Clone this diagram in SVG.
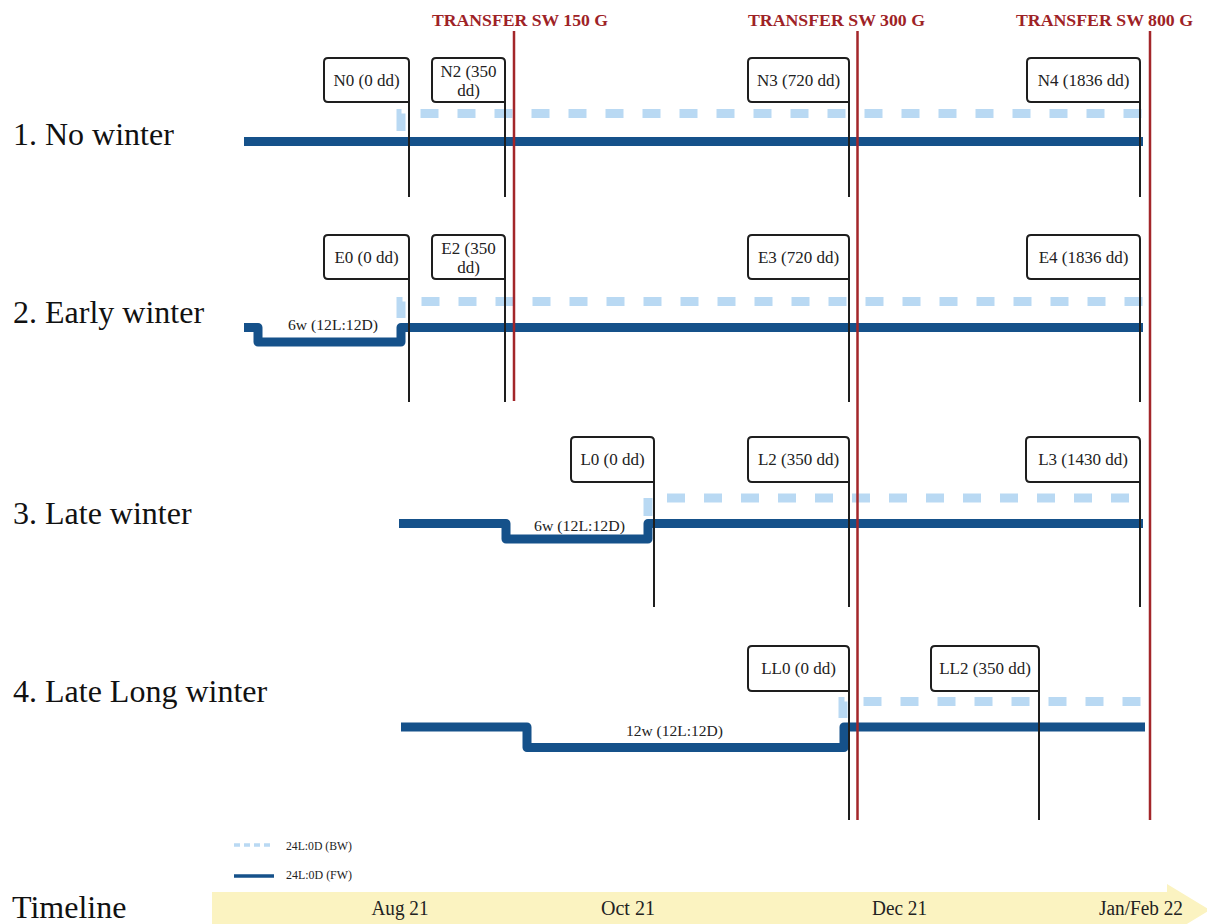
<svg xmlns="http://www.w3.org/2000/svg" width="1207" height="924" viewBox="0 0 1207 924">
<style>
.row{font-family:"Liberation Serif","Times New Roman",serif;font-size:32px;fill:#111}
.red{stroke:#a3262a;stroke-width:2.5;fill:none}
.redlbl{font-family:"Liberation Serif","Times New Roman",serif;font-size:17.5px;font-weight:bold;fill:#9e2226}
.fw{stroke:#15518a;stroke-width:9;fill:none;stroke-linejoin:round}
.bw{stroke:#b9d9f3;stroke-width:9;fill:none;stroke-dasharray:18 19}
.box{fill:#fff;stroke:#1e1e1e;stroke-width:2;stroke-linejoin:round}
.bt{font-family:"Liberation Serif","Times New Roman",serif;font-size:17px;fill:#222;text-anchor:middle}
.wl{font-family:"Liberation Serif","Times New Roman",serif;font-size:15px;fill:#222;text-anchor:middle}
.tl{font-family:"Liberation Serif","Times New Roman",serif;font-size:20px;fill:#222;text-anchor:middle}
.lg{font-family:"Liberation Serif","Times New Roman",serif;font-size:13px;fill:#222}
</style>

<!-- row labels -->
<text class="row" x="13" y="145">1. No winter</text>
<text class="row" x="13" y="323">2. Early winter</text>
<text class="row" x="13" y="524">3. Late winter</text>
<text class="row" x="13" y="702">4. Late Long winter</text>
<text class="row" x="12" y="918">Timeline</text>

<!-- timeline arrow -->
<path d="M212,892 H1167 V884 L1210,910 L1167,936 V928 H212 Z" fill="#fbf3c1"/>
<text class="tl" x="400" y="915" textLength="57" lengthAdjust="spacingAndGlyphs">Aug 21</text>
<text class="tl" x="628" y="915" textLength="54" lengthAdjust="spacingAndGlyphs">Oct 21</text>
<text class="tl" x="899.5" y="915" textLength="55" lengthAdjust="spacingAndGlyphs">Dec 21</text>
<text class="tl" x="1141" y="915" textLength="84" lengthAdjust="spacingAndGlyphs">Jan/Feb 22</text>

<!-- legend -->
<g id="legend">
<line x1="234" y1="845" x2="274" y2="845" stroke="#b9d9f3" stroke-width="3.5" stroke-dasharray="6 4"/>
<text class="lg" x="286" y="850" textLength="66" lengthAdjust="spacingAndGlyphs">24L:0D (BW)</text>
<line x1="234" y1="876" x2="274" y2="876" stroke="#15518a" stroke-width="3.5"/>
<text class="lg" x="286" y="879" textLength="66" lengthAdjust="spacingAndGlyphs">24L:0D (FW)</text>
</g>

<!-- connectors: light regimes -->
<g id="connectors">
<path class="fw" d="M244,141.5 H1143"/>
<path class="bw" d="M401,131 V113.5 H1143"/>
<path class="fw" d="M244,327.5 H258 V342 H401 V327.5 H1143"/>
<path class="bw" d="M401,318 V301.5 H1143"/>
<path class="fw" d="M399,523.5 H506 V539 H648 V523.5 H1143"/>
<path class="bw" d="M648,516 V498 H1135"/>
<path class="fw" d="M401,727 H527 V747.5 H844 V727 H1145"/>
<path class="bw" d="M843,718 V701.5 H1143"/>
</g>

<text class="wl" x="333" y="330" textLength="90" lengthAdjust="spacingAndGlyphs">6w (12L:12D)</text>
<text class="wl" x="579.5" y="530.5" textLength="91" lengthAdjust="spacingAndGlyphs">6w (12L:12D)</text>
<text class="wl" x="674.5" y="736" textLength="97" lengthAdjust="spacingAndGlyphs">12w (12L:12D)</text>

<!-- transfer lines -->
<g id="transfers">
<line class="red" x1="514" y1="31" x2="514" y2="401"/>
<line class="red" x1="857.5" y1="31" x2="857.5" y2="820"/>
<line class="red" x1="1150" y1="31" x2="1150" y2="820"/>
<text class="redlbl" x="432" y="26" textLength="176" lengthAdjust="spacingAndGlyphs">TRANSFER SW 150 G</text>
<text class="redlbl" x="748" y="26" textLength="177" lengthAdjust="spacingAndGlyphs">TRANSFER SW 300 G</text>
<text class="redlbl" x="1016" y="26" textLength="177" lengthAdjust="spacingAndGlyphs">TRANSFER SW 800 G</text>
</g>

<!-- nodes -->
<g id="N0"><path class="box" d="M409,102 H328 Q324,102 324,98 V62 Q324,58 328,58 H405 Q409,58 409,62 V197"/><text class="bt" x="366.5" y="86">N0 (0 dd)</text></g>
<g id="N2"><path class="box" d="M505,102 H436 Q432,102 432,98 V62 Q432,58 436,58 H501 Q505,58 505,62 V197"/><text class="bt" x="468.5" y="77">N2 (350</text><text class="bt" x="468.5" y="96">dd)</text></g>
<g id="N3"><path class="box" d="M849,102 H752 Q748,102 748,98 V62 Q748,58 752,58 H845 Q849,58 849,62 V197"/><text class="bt" x="798.5" y="86">N3 (720 dd)</text></g>
<g id="N4"><path class="box" d="M1140,102 H1031 Q1027,102 1027,98 V62 Q1027,58 1031,58 H1136 Q1140,58 1140,62 V197"/><text class="bt" x="1083.5" y="86">N4 (1836 dd)</text></g>

<g id="E0"><path class="box" d="M409,279 H328 Q324,279 324,275 V239 Q324,235 328,235 H405 Q409,235 409,239 V402"/><text class="bt" x="366.5" y="263">E0 (0 dd)</text></g>
<g id="E2"><path class="box" d="M505,279 H436 Q432,279 432,275 V239 Q432,235 436,235 H501 Q505,235 505,239 V402"/><text class="bt" x="468.5" y="254">E2 (350</text><text class="bt" x="468.5" y="273">dd)</text></g>
<g id="E3"><path class="box" d="M849,279 H752 Q748,279 748,275 V239 Q748,235 752,235 H845 Q849,235 849,239 V402"/><text class="bt" x="798.5" y="263">E3 (720 dd)</text></g>
<g id="E4"><path class="box" d="M1140,279 H1031 Q1027,279 1027,275 V239 Q1027,235 1031,235 H1136 Q1140,235 1140,239 V402"/><text class="bt" x="1083.5" y="263">E4 (1836 dd)</text></g>

<g id="L0"><path class="box" d="M654,482 H575 Q571,482 571,478 V441 Q571,437 575,437 H650 Q654,437 654,441 V607"/><text class="bt" x="612.5" y="465">L0 (0 dd)</text></g>
<g id="L2"><path class="box" d="M849,482 H752 Q748,482 748,478 V441 Q748,437 752,437 H845 Q849,437 849,441 V607"/><text class="bt" x="798.5" y="465">L2 (350 dd)</text></g>
<g id="L3"><path class="box" d="M1140,482 H1030 Q1026,482 1026,478 V441 Q1026,437 1030,437 H1136 Q1140,437 1140,441 V607"/><text class="bt" x="1083" y="465">L3 (1430 dd)</text></g>

<g id="LL0"><path class="box" d="M849,691 H752 Q748,691 748,687 V650 Q748,646 752,646 H845 Q849,646 849,650 V820"/><text class="bt" x="798.5" y="674">LL0 (0 dd)</text></g>
<g id="LL2"><path class="box" d="M1039,691 H935 Q931,691 931,687 V650 Q931,646 935,646 H1035 Q1039,646 1039,650 V820"/><text class="bt" x="985" y="674">LL2 (350 dd)</text></g>
</svg>
